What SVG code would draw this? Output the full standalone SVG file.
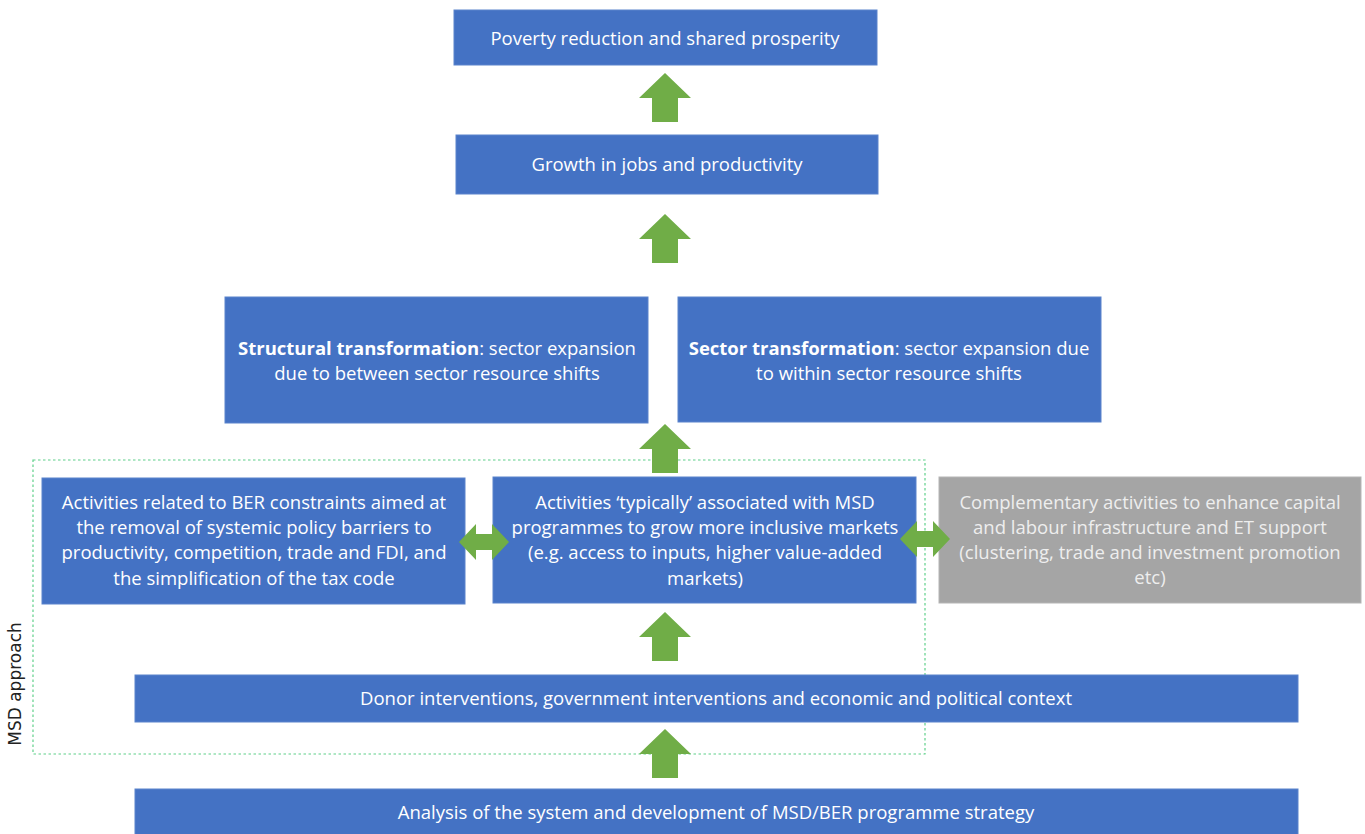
<svg xmlns="http://www.w3.org/2000/svg" width="1365" height="834" viewBox="0 0 1365 834">
<style>
.box{fill:#4472C4;stroke:#5a83cc;stroke-width:1}
.gbox{fill:#A5A5A5;stroke:#b5b5b5;stroke-width:1}
.t{font-family:"Open Sans","Liberation Sans",sans-serif;font-size:18.5px;fill:#ffffff;text-anchor:middle}
.tg{font-family:"Open Sans","Liberation Sans",sans-serif;font-size:18.5px;fill:#eeeeee;text-anchor:middle}
.arr{fill:#70AD47}
</style>
<defs>
<path id="up" d="M0,0 L26,25 L13,25 L13,49 L-13,49 L-13,25 L-26,25 Z" class="arr"/>
<path id="dbl" d="M0,0 L17,-18 L17,-8 L33,-8 L33,-18 L50,0 L33,18 L33,8 L17,8 L17,18 Z" class="arr"/>
</defs>
<rect x="33" y="460" width="892" height="294" fill="none" stroke="#5fd08a" stroke-width="1.2" stroke-dasharray="2.5,2.5"/>
<text transform="translate(21,684) rotate(-90)" style="font-family:'DejaVu Sans',sans-serif;font-size:17px;fill:#222;text-anchor:middle">MSD approach</text>
<g id="n1"><rect class="box" x="454" y="10" width="423" height="55"/><text class="t" x="665" y="45">Poverty reduction and shared prosperity</text></g>
<g id="n2"><rect class="box" x="456" y="135" width="422" height="59"/><text class="t" x="667" y="171">Growth in jobs and productivity</text></g>
<g id="n3"><rect class="box" x="225" y="297" width="423" height="126"/><text class="t" x="437" y="355"><tspan font-weight="bold">Structural transformation</tspan>: sector expansion</text><text class="t" x="437" y="380">due to between sector resource shifts</text></g>
<g id="n4"><rect class="box" x="678" y="297" width="423" height="125"/><text class="t" x="889" y="355"><tspan font-weight="bold">Sector transformation</tspan>: sector expansion due</text><text class="t" x="889" y="380">to within sector resource shifts</text></g>
<g id="n5"><rect class="box" x="42" y="478" width="423" height="126"/>
<text class="t" x="254" y="509">Activities related to BER constraints aimed at</text>
<text class="t" x="254" y="534">the removal of systemic policy barriers to</text>
<text class="t" x="254" y="559">productivity, competition, trade and FDI, and</text>
<text class="t" x="254" y="585">the simplification of the tax code</text></g>
<g id="n6"><rect class="box" x="493" y="477" width="423" height="126"/>
<text class="t" x="705" y="509">Activities ‘typically’ associated with MSD</text>
<text class="t" x="705" y="534">programmes to grow more inclusive markets</text>
<text class="t" x="705" y="559">(e.g. access to inputs, higher value-added</text>
<text class="t" x="705" y="585">markets)</text></g>
<g id="n7"><rect class="gbox" x="939" y="477" width="422" height="126"/>
<text class="tg" x="1150" y="509">Complementary activities to enhance capital</text>
<text class="tg" x="1150" y="534">and labour infrastructure and ET support</text>
<text class="tg" x="1150" y="559">(clustering, trade and investment promotion</text>
<text class="tg" x="1150" y="584">etc)</text></g>
<g id="n8"><rect class="box" x="135" y="675" width="1163" height="47"/><text class="t" x="716" y="705">Donor interventions, government interventions and economic and political context</text></g>
<g id="n9"><rect class="box" x="135" y="789" width="1163" height="50"/><text class="t" x="716" y="819">Analysis of the system and development of MSD/BER programme strategy</text></g>
<g id="connectors">
<use href="#up" x="665" y="73"/>
<use href="#up" x="665" y="214"/>
<use href="#up" x="665" y="424"/>
<use href="#up" x="665" y="612"/>
<use href="#up" x="665" y="729"/>
<use href="#dbl" x="459" y="542"/>
<use href="#dbl" x="900" y="539"/>
</g>
</svg>
